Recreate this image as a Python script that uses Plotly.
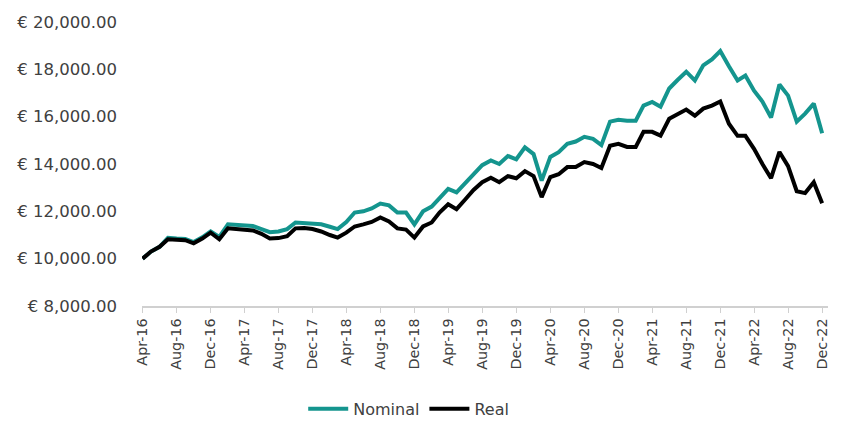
import pandas as pd
import plotly.graph_objects as go

# Monthly portfolio value, Apr 2016 - Dec 2022
months = pd.date_range("2016-04-01", "2022-12-01", freq="MS")

nominal = [
    10000, 10300, 10500, 10880, 10850, 10830, 10700, 10900, 11150,          # Apr-16 .. Dec-16
    10920, 11450, 11420, 11420, 11380, 11250, 11120, 11150, 11250, 11530, 11500, 11480,  # 2017
    11450, 11350, 11250, 11550, 11950, 12000, 12120, 12330, 12250, 11950, 11950, 11450,  # 2018
    12000, 12200, 12550, 12950, 12800, 13200, 13600, 13950, 14150, 14000, 14340, 14200,  # 2019
    14700, 14420, 13300, 14300, 14500, 14850, 14950, 15150, 15060, 14800, 15790, 15870,  # 2020
    15830, 15830, 16470, 16620, 16420, 17190, 17550, 17900, 17530, 18170, 18420, 18770,  # 2021
    18130, 17530, 17740, 17100, 16640, 15960, 17360, 16890, 15790, 16130, 16550, 15300,  # 2022
]

real = [
    10000, 10300, 10500, 10820, 10800, 10780, 10650, 10850, 11100,
    10820, 11280, 11250, 11220, 11190, 11050, 10850, 10870, 10950, 11280, 11300, 11250,
    11150, 11000, 10890, 11100, 11360, 11450, 11550, 11740, 11570, 11280, 11230, 10890,
    11360, 11530, 11950, 12300, 12090, 12500, 12900, 13230, 13420, 13230, 13490, 13400,
    13700, 13490, 12600, 13450, 13570, 13870, 13870, 14080, 14000, 13830, 14770, 14850,
    14720, 14720, 15360, 15360, 15200, 15910, 16100, 16300, 16040, 16340, 16470, 16640,
    15700, 15190, 15190, 14640, 14000, 13400, 14510, 13910, 12850, 12770, 13230, 12340,
]

y_ticks = list(range(8000, 20001, 2000))
y_tick_text = ["€ {:,.2f}".format(v) for v in y_ticks]

series_names = ["Nominal", "Real"]
series_colors = ["#14958E", "#000000"]

fig = go.Figure()
for name, values, color in zip(series_names, [nominal, real], series_colors):
    fig.add_trace(go.Scatter(
        x=months, y=values, mode="lines", name=name,
        line=dict(color=color, width=4),
    ))

font_color = "#404040"
font_family = "DejaVu Sans, sans-serif"

fig.update_layout(
    width=846, height=426,
    margin=dict(l=142, r=18, t=22, b=120, autoexpand=False),
    paper_bgcolor="white", plot_bgcolor="white",
    font=dict(family=font_family, color=font_color, size=13),
    showlegend=True,
    legend=dict(
        orientation="h", x=0.235, xanchor="left",
        yref="container", y=0.04, yanchor="middle",
        font=dict(size=16, color=font_color), itemwidth=40,
        tracegroupgap=0,
    ),
    xaxis=dict(
        type="date",
        range=["2016-03-30", "2022-12-22"],
        tick0="2016-04-01", dtick="M4", tickformat="%b-%y",
        tickangle=-90, ticks="outside", ticklen=5, tickcolor="#d0d0d0",
        showline=True, linecolor="#d0d0d0", linewidth=1.5,
        showgrid=False, zeroline=False,
        tickfont=dict(size=14.3, color=font_color),
    ),
    yaxis=dict(
        range=[8000, 20000],
        tickvals=y_ticks, ticktext=y_tick_text,
        showgrid=False, zeroline=False, showline=False,
        ticks="", ticklabelstandoff=24,
        tickfont=dict(size=16.5, color=font_color),
    ),
)

fig.write_html("out.html")
